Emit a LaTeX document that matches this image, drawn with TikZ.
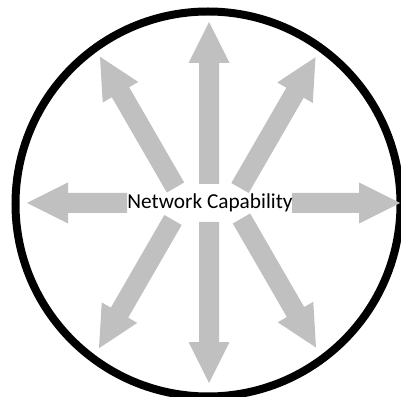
\documentclass[tikz,border=0pt]{standalone}
\usepackage{fontspec}
\setmainfont{Carlito}
\definecolor{arrowgray}{RGB}{192,192,192}
\tikzset{
  ring/.style={draw=black, line width=8pt},
  blockarrow/.style={fill=arrowgray, draw=none},
  caption/.style={font=\fontsize{21.3}{24}\selectfont, text=black, inner sep=0pt}
}
% \radarrow{start point}{direction angle}{total length}
\newcommand{\radarrow}[3]{%
  \begin{scope}[shift={#1}, rotate=#2]
    \path[blockarrow] (0,-10) -- ({#3-41},-10) -- ({#3-41},-20.5) -- (#3,0)
      -- ({#3-41},20.5) -- ({#3-41},10) -- (0,10) -- cycle;
  \end{scope}}
\begin{document}
\begin{tikzpicture}[x=1pt, y=1pt]
  \useasboundingbox (0,0) rectangle (401,396);
  \fill[white] (0,0) rectangle (401,396);

  % outer ring
  \draw[ring] (208,192) circle[radius=192.5];

  % straight arrows
  \radarrow{(209,212)}{90}{162}
  \radarrow{(209,174)}{270}{161}
  \radarrow{(127,193)}{180}{100}
  \radarrow{(292,193)}{0}{108}

  % diagonal arrows
  \radarrow{(175.5,208.5)}{120}{151}
  \radarrow{(240,208)}{60}{151}
  \radarrow{(173,176)}{240}{148}
  \radarrow{(241.5,177.5)}{300}{149}

  \node[caption] (cap) at (210,193.5) {Network Capability};
\end{tikzpicture}
\end{document}
